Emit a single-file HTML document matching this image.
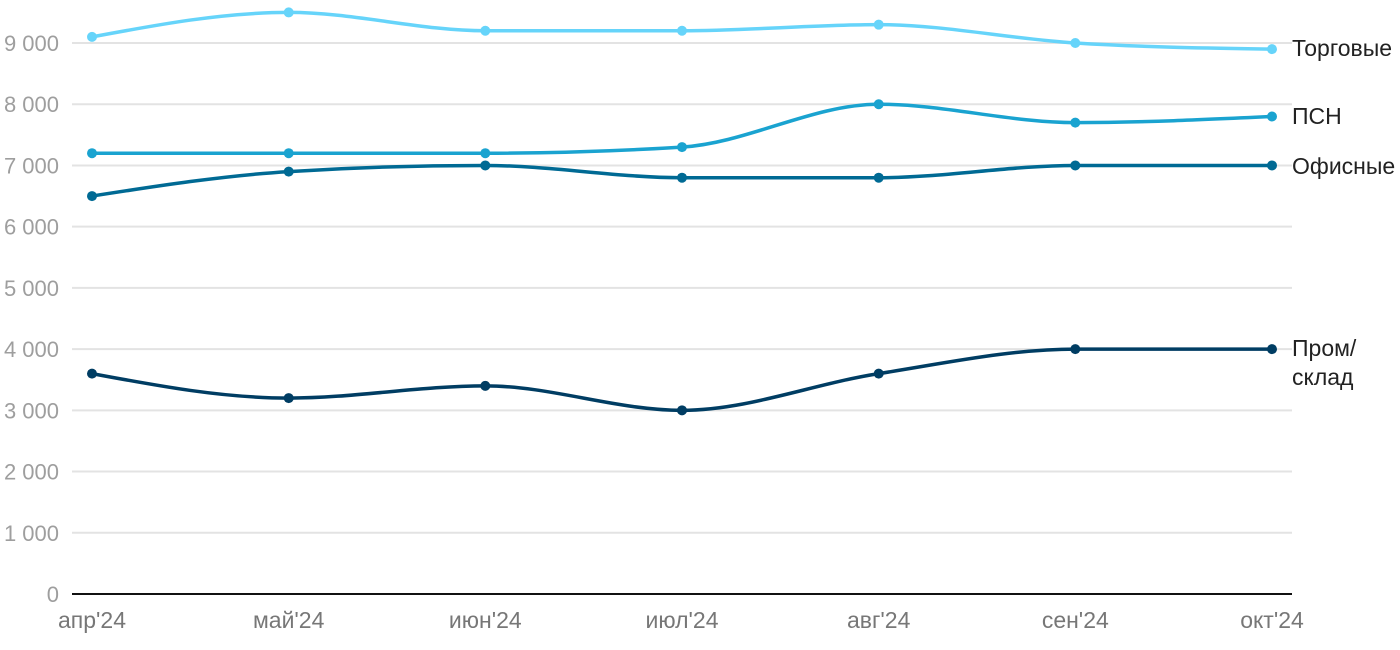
<!DOCTYPE html>
<html><head><meta charset="utf-8"><style>
html,body{margin:0;padding:0;background:#fff;}
svg{display:block;font-family:"Liberation Sans",Arial,sans-serif;}
</style></head><body>
<svg id="c" width="1400" height="650" xmlns="http://www.w3.org/2000/svg"></svg>
<script>
const s=document.getElementById('c');
const NS='http://www.w3.org/2000/svg';
function el(t,a,txt){const e=document.createElementNS(NS,t);for(const k in a)e.setAttribute(k,a[k]);if(txt!=null)e.textContent=txt;s.appendChild(e);return e;}
const y=v=>594-v*61.22/1000;
const xs=[92,288.7,485.3,682,878.7,1075.3,1272];
for(let i=1;i<=9;i++){el('line',{x1:72,x2:1292,y1:y(i*1000),y2:y(i*1000),stroke:'#e3e3e3','stroke-width':2});
el('text',{x:59,y:y(i*1000)+8,'text-anchor':'end','font-size':22,fill:'#9e9e9e'},(i)+' 000');}
el('text',{x:59,y:602,'text-anchor':'end','font-size':22,fill:'#9e9e9e'},'0');
el('line',{x1:72,x2:1292,y1:594,y2:594,stroke:'#111','stroke-width':2});
const lab=["апр'24","май'24","июн'24","июл'24","авг'24","сен'24","окт'24"];
lab.forEach((l,i)=>el('text',{x:xs[i],y:628,'text-anchor':'middle','font-size':23,fill:'#777'},l));
function mono(ys){const n=ys.length,d=[],m=[];for(let i=0;i<n-1;i++)d.push((ys[i+1]-ys[i])/(xs[i+1]-xs[i]));
for(let i=0;i<n;i++){if(i==0)m.push(d[0]);else if(i==n-1)m.push(d[n-2]);else{if(d[i-1]*d[i]<=0)m.push(0);else{const h0=xs[i]-xs[i-1],h1=xs[i+1]-xs[i];const p=(d[i-1]*h1+d[i]*h0)/(h0+h1);m.push((Math.sign(d[i-1])+Math.sign(d[i]))*Math.min(Math.abs(d[i-1]),Math.abs(d[i]),0.5*Math.abs(p)));}}}
m[0]=(3*d[0]-m[1])/2; if(Math.sign(m[0])!=Math.sign(d[0]))m[0]=0;
m[n-1]=(3*d[n-2]-m[n-2])/2; if(Math.sign(m[n-1])!=Math.sign(d[n-2]))m[n-1]=0;
let p='M'+xs[0]+','+ys[0];for(let i=0;i<n-1;i++){const h=(xs[i+1]-xs[i])/3;p+=' C'+(xs[i]+h)+','+(ys[i]+m[i]*h)+' '+(xs[i+1]-h)+','+(ys[i+1]-m[i+1]*h)+' '+xs[i+1]+','+ys[i+1];}return p;}
const series=[
{v:[3600,3200,3400,3000,3600,4000,4000],c:'#003d63',l:['Пром/','склад'],ly:356},
{v:[6500,6900,7000,6800,6800,7000,7000],c:'#006a94',l:['Офисные'],ly:174},
{v:[7200,7200,7200,7300,8000,7700,7800],c:'#1aa3d0',l:['ПСН'],ly:124},
{v:[9100,9500,9200,9200,9300,9000,8900],c:'#66d4fa',l:['Торговые'],ly:56}];
series.forEach(se=>{const ys=se.v.map(y);el('path',{d:mono(ys),fill:'none',stroke:se.c,'stroke-width':3.5});
ys.forEach((yy,i)=>el('circle',{cx:xs[i],cy:yy,r:5,fill:se.c}));
se.l.forEach((t,i)=>el('text',{x:1292,y:se.ly+i*29,'font-size':23,fill:'#222'},t));});
</script>
</body></html>
